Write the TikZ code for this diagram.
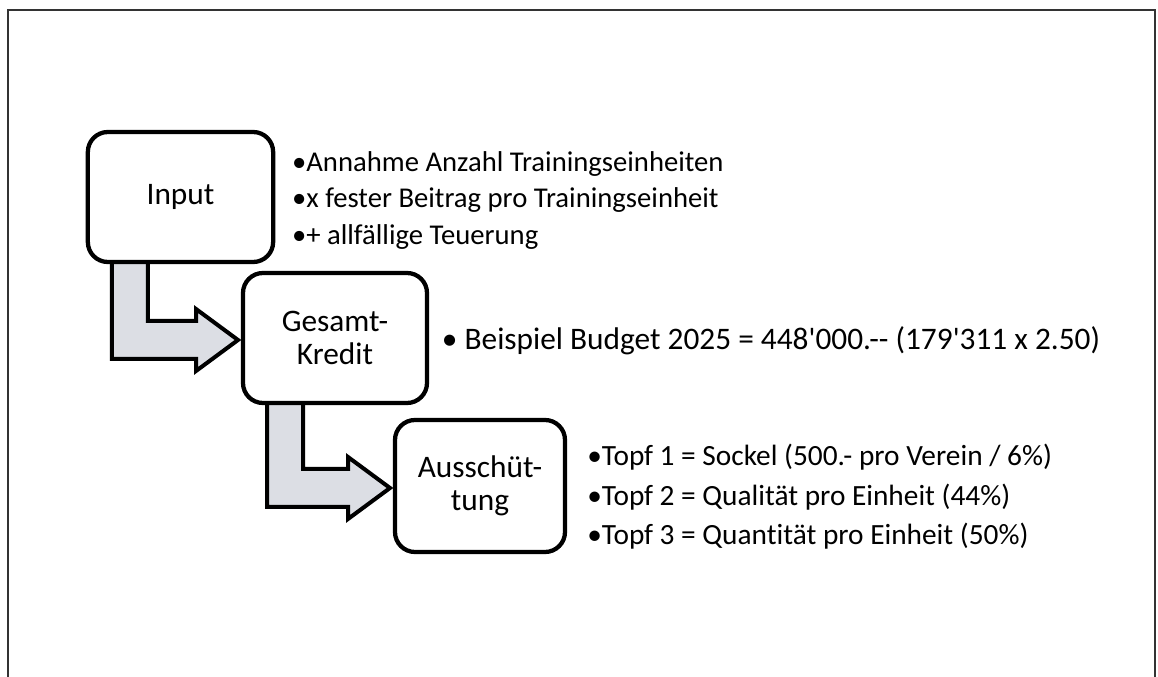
\documentclass[tikz,border=0pt]{standalone}
\usepackage{fontspec}
\setmainfont{Carlito}[Ligatures=NoCommon]
\usetikzlibrary{positioning,calc,backgrounds}
\definecolor{arrowgray}{RGB}{220,222,228}
\tikzstyle{stepbox}=[draw,line width=3.2pt,rounded corners=15pt,fill=white,align=center,outer sep=0pt,font=\fontsize{23.5}{25}\selectfont]
\tikzstyle{bentarrow}=[draw,line width=3pt,fill=arrowgray,line join=miter]
\tikzstyle{bullettext}=[inner sep=0pt,align=left,anchor=west]
\tikzstyle{frameline}=[line width=1.5pt,black!80]
\newcommand{\drawbentarrow}[2]{
  \coordinate (tip) at ($(#2.west)+(-5,2)$);
  \draw[bentarrow] ($(#1.south west)+(24,0)$) |- ($(tip)+(-42,19)$) -- ++(0,12) -- (tip)
    -- ($(tip)+(-42,-31)$) -- ++(0,12) -| ($(#1.south west)+(60,0)$) -- cycle;
}
\begin{document}
\begin{tikzpicture}[x=0.75pt,y=-0.75pt]
  \useasboundingbox (0,0) rectangle (1158,677);
  % boxes
  \node[stepbox,minimum width=139pt,minimum height=97.5pt] (input) at (180.5,197) {Input};
  \node[stepbox,minimum width=138pt,minimum height=97.5pt] (kredit) at (335,338) {Gesamt-\\Kredit};
  \node[stepbox,minimum width=127.5pt,minimum height=99pt] (aussch) at (480,486) {Ausschüt-\\tung};
  % texts
  \node[bullettext,right=14pt of input,yshift=-2.5pt,font=\fontsize{21.5}{27.5}\selectfont] (inputlist)
    {•Annahme Anzahl Trainingseinheiten\\•x fester Beitrag pro Trainingseinheit\\•+ allfällige Teuerung};
  \node[bullettext,right=11pt of kredit,yshift=-2pt,font=\fontsize{23.5}{27}\selectfont] (budget)
    {• Beispiel Budget 2025 = 448\textquotesingle000.-{}- (179\textquotesingle311 x 2.50)};
  \node[bullettext,right=16.5pt of aussch,yshift=-8pt,font=\fontsize{22}{29.5}\selectfont] (toepfe)
    {•Topf 1 = Sockel (500.- pro Verein / 6\%)\\•Topf 2 = Qualität pro Einheit (44\%)\\•Topf 3 = Quantität pro Einheit (50\%)};
  \begin{pgfonlayer}{background}
    \draw[frameline] (8,677) -- (8,10) -- (1155,10) -- (1155,677);
    \drawbentarrow{input}{kredit}
    \drawbentarrow{kredit}{aussch}
  \end{pgfonlayer}
\end{tikzpicture}
\end{document}
